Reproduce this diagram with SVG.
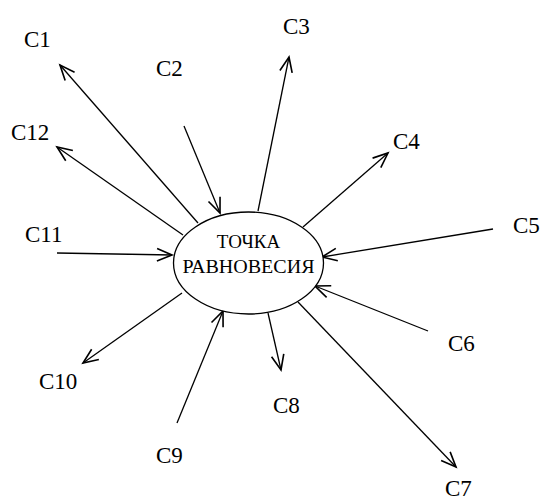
<svg xmlns="http://www.w3.org/2000/svg" width="542" height="499" viewBox="0 0 542 499">
<style>
.lbl{font-family:"Liberation Serif","Times New Roman",serif;font-size:23px;fill:#000}
.ctr{font-family:"Liberation Serif","Times New Roman",serif;font-size:19px;fill:#000;text-anchor:middle}
.edge{stroke:#000;stroke-width:1.3;fill:none;marker-end:url(#arr)}
</style>
<defs>
<marker id="arr" markerUnits="userSpaceOnUse" markerWidth="20" markerHeight="20" viewBox="-14 -8 16 16" refX="0" refY="0" orient="auto">
<path d="M-12,-5 L0,0 L-12,5" fill="none" stroke="#000" stroke-width="1.3"/>
</marker>
</defs>
<rect width="542" height="499" fill="#fff"/>
<g id="connectors">
<line class="edge" x1="198" y1="223" x2="60" y2="65"/>
<line class="edge" x1="183" y1="235" x2="57" y2="147"/>
<line class="edge" x1="184" y1="126" x2="220" y2="213"/>
<line class="edge" x1="258" y1="211" x2="289" y2="57"/>
<line class="edge" x1="303" y1="227" x2="388" y2="153"/>
<line class="edge" x1="493" y1="229" x2="322" y2="257"/>
<line class="edge" x1="428" y1="331" x2="315" y2="286"/>
<line class="edge" x1="298" y1="302" x2="456" y2="467"/>
<line class="edge" x1="268" y1="313" x2="281" y2="370"/>
<line class="edge" x1="177" y1="423" x2="223" y2="311"/>
<line class="edge" x1="182" y1="293" x2="83" y2="363"/>
<line class="edge" x1="57" y1="253" x2="172" y2="255"/>
</g>
<g id="center">
<ellipse cx="248.5" cy="263" rx="75" ry="51" fill="#fff" stroke="#000" stroke-width="1.3"/>
<text class="ctr" x="248.5" y="248">ТОЧКА</text>
<text class="ctr" x="248.5" y="273" textLength="132" lengthAdjust="spacingAndGlyphs">РАВНОВЕСИЯ</text>
</g>
<g id="c1"><text class="lbl" x="24" y="47">C1</text></g>
<g id="c2"><text class="lbl" x="156" y="76">C2</text></g>
<g id="c3"><text class="lbl" x="283" y="34">C3</text></g>
<g id="c4"><text class="lbl" x="393" y="149">C4</text></g>
<g id="c5"><text class="lbl" x="513" y="233">C5</text></g>
<g id="c6"><text class="lbl" x="448" y="351">C6</text></g>
<g id="c7"><text class="lbl" x="445" y="496">C7</text></g>
<g id="c8"><text class="lbl" x="273" y="413">C8</text></g>
<g id="c9"><text class="lbl" x="156" y="463">C9</text></g>
<g id="c10"><text class="lbl" x="39" y="389">C10</text></g>
<g id="c11"><text class="lbl" x="25" y="242">C11</text></g>
<g id="c12"><text class="lbl" x="11" y="140">C12</text></g>
</svg>
